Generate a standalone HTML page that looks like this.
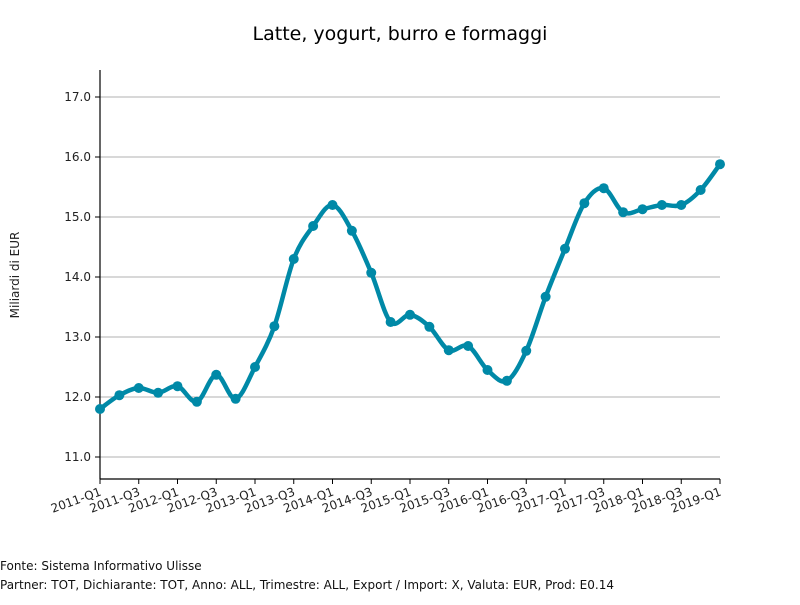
<!DOCTYPE html>
<html><head><meta charset="utf-8"><style>
body{margin:0;background:#fff;}
svg{font-family:"DejaVu Sans","Liberation Sans",sans-serif;}
</style></head><body>
<svg id="chart" width="800" height="600">
<text x="400" y="40" text-anchor="middle" font-size="19" fill="#000">Latte, yogurt, burro e formaggi</text>
<text transform="translate(19,275) rotate(-90)" text-anchor="middle" font-size="12" fill="#222">Miliardi di EUR</text>
<g id="grid"></g><g id="axes"></g><g id="series"></g>
<text x="0" y="570" font-size="12" fill="#111">Fonte: Sistema Informativo Ulisse</text>
<text x="0" y="589" font-size="12" fill="#111">Partner: TOT, Dichiarante: TOT, Anno: ALL, Trimestre: ALL, Export / Import: X, Valuta: EUR, Prod: E0.14</text>
</svg>
<script>
const categories=["2011-Q1","2011-Q2","2011-Q3","2011-Q4","2012-Q1","2012-Q2","2012-Q3","2012-Q4","2013-Q1","2013-Q2","2013-Q3","2013-Q4","2014-Q1","2014-Q2","2014-Q3","2014-Q4","2015-Q1","2015-Q2","2015-Q3","2015-Q4","2016-Q1","2016-Q2","2016-Q3","2016-Q4","2017-Q1","2017-Q2","2017-Q3","2017-Q4","2018-Q1","2018-Q2","2018-Q3","2018-Q4","2019-Q1"];
const values=[11.80,12.03,12.15,12.07,12.18,11.92,12.37,11.97,12.50,13.18,14.30,14.85,15.20,14.77,14.07,13.25,13.37,13.17,12.78,12.85,12.45,12.27,12.77,13.67,14.47,15.23,15.48,15.08,15.13,15.20,15.20,15.45,15.88];
const yTicks=[11.0,12.0,13.0,14.0,15.0,16.0,17.0];
const NS="http://www.w3.org/2000/svg";
const x0=100,x1=720,yTop=70,yBot=479;
const xs=i=>x0+(x1-x0)*i/(categories.length-1);
const ys=v=>457-(v-11)*60;
function mk(tag,attrs,parent){const e=document.createElementNS(NS,tag);for(const k in attrs)e.setAttribute(k,attrs[k]);parent.appendChild(e);return e;}
const grid=document.getElementById('grid'),axes=document.getElementById('axes'),ser=document.getElementById('series');
yTicks.forEach(t=>{
 const l=mk('line',{x1:x0,x2:x1,y1:ys(t),y2:ys(t),stroke:'#b0b0b0','stroke-width':1},grid);
 
 
 const tk=mk('line',{x1:x0-5,x2:x0,y1:ys(t),y2:ys(t),stroke:'#000'},axes);
 
 
 const tx=mk('text',{x:x0-9,y:ys(t)+4,'text-anchor':'end','font-size':12,fill:'#222'},axes);
 tx.textContent=t.toFixed(1);
 
 
});
const ya=mk('line',{x1:x0,x2:x0,y1:yTop,y2:yBot,stroke:'#000','stroke-width':1.2},axes);


const xa=mk('line',{x1:x0,x2:x1,y1:yBot,y2:yBot,stroke:'#000','stroke-width':1.2},axes);


categories.forEach((c,i)=>{
 if(i%2)return;
 const x=xs(i);
 const tk=mk('line',{x1:x,x2:x,y1:yBot,y2:yBot+5,stroke:'#000'},axes);
 
 
 const tx=mk('text',{transform:`translate(${x+2},${yBot+16}) rotate(-20)`,'text-anchor':'end','font-size':12,fill:'#222'},axes);
 tx.textContent=c;
 
 
});
// smooth path (Catmull-Rom)
const pts=values.map((v,i)=>[xs(i),ys(v)]);
let d=`M${pts[0][0]},${pts[0][1]}`;
for(let i=0;i<pts.length-1;i++){
 const p0=pts[Math.max(0,i-1)],p1=pts[i],p2=pts[i+1],p3=pts[Math.min(pts.length-1,i+2)];
 const c1=[p1[0]+(p2[0]-p0[0])/6,p1[1]+(p2[1]-p0[1])/6],c2=[p2[0]-(p3[0]-p1[0])/6,p2[1]-(p3[1]-p1[1])/6];
 d+=` C${c1[0]},${c1[1]} ${c2[0]},${c2[1]} ${p2[0]},${p2[1]}`;
}
const path=mk('path',{d:d,fill:'none',stroke:'#0089a7','stroke-width':4.5,'stroke-linejoin':'round'},ser);


pts.forEach(p=>{
 const c=mk('circle',{cx:p[0],cy:p[1],r:5,fill:'#0089a7'},ser);
 
 
});
</script>
</body></html>
